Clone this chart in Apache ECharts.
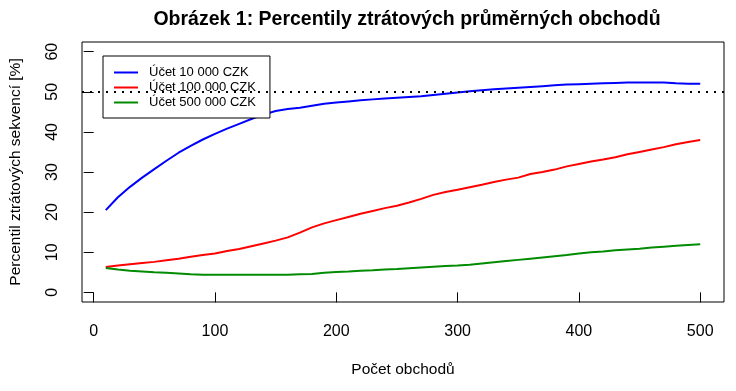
<!DOCTYPE html>
<html>
<head>
<meta charset="utf-8">
<script src="https://cdn.jsdelivr.net/npm/echarts@6/dist/echarts.min.js"></script>
<style>html,body{margin:0;padding:0;background:#fff;}#c{width:736px;height:391px;}</style>
</head>
<body>
<div id="c"></div>
<script>
const xValues = [10,20,30,40,50,60,70,80,90,100,110,120,130,140,150,160,170,180,190,200,210,220,230,240,250,260,270,280,290,300,310,320,330,340,350,360,370,380,390,400,410,420,430,440,450,460,470,480,490,500];
const ucet10k = [20.5,23.7,26.3,28.6,30.7,32.8,34.8,36.5,38.1,39.5,40.8,42.0,43.2,44.3,45.2,45.7,46.0,46.5,47.0,47.3,47.6,47.9,48.1,48.3,48.5,48.7,48.9,49.2,49.5,49.8,50.1,50.4,50.6,50.8,51.0,51.2,51.4,51.6,51.8,51.9,52.0,52.1,52.2,52.3,52.3,52.3,52.3,52.1,52.0,52.0];
const ucet100k = [6.3,6.7,7.0,7.3,7.6,8.0,8.4,8.9,9.3,9.7,10.3,10.8,11.5,12.2,12.9,13.7,14.9,16.2,17.2,18.0,18.8,19.6,20.3,21.0,21.6,22.4,23.3,24.3,25.0,25.6,26.2,26.8,27.5,28.1,28.6,29.5,30.0,30.6,31.4,32.0,32.6,33.1,33.7,34.4,35.0,35.6,36.2,36.9,37.5,38.0];
const ucet500k = [6.1,5.7,5.4,5.2,5.0,4.9,4.7,4.5,4.4,4.4,4.4,4.4,4.4,4.4,4.4,4.4,4.5,4.6,4.9,5.1,5.2,5.4,5.5,5.7,5.8,6.0,6.2,6.4,6.6,6.7,6.9,7.2,7.5,7.8,8.1,8.4,8.7,9.0,9.3,9.7,10.0,10.2,10.5,10.7,10.9,11.2,11.4,11.6,11.8,12.0];
const seriesNames = ['Účet 10 000 CZK','Účet 100 000 CZK','Účet 500 000 CZK'];
const xTicks = [0,100,200,300,400,500];
const yTicks = [0,10,20,30,40,50,60];
const refLine = 50;

const FONT = '"Liberation Sans", Arial, sans-serif';
const colors = ['#0000FF','#FF0000','#008B00'];
const pairs = ys => xValues.map((x,i)=>[x, ys[i]]);
const allY = [ucet10k, ucet100k, ucet500k];

const chart = echarts.init(document.getElementById('c'), null, {renderer:'canvas'});
const series = allY.map((ys,i)=>({
  name: seriesNames[i], type:'line', data: pairs(ys), symbol:'none', showSymbol:false,
  lineStyle:{color:colors[i], width:2}, itemStyle:{color:colors[i]}, animation:false,
  z: 3
}));
series[0].markLine = {
  silent:true, symbol:'none', animation:false,
  label:{show:false},
  lineStyle:{color:'#000', width:2, type:[2,6]},
  data:[{yAxis:refLine}]
};
chart.setOption({
  animation:false,
  backgroundColor:'#fff',
  title:{
    text:'Obrázek 1: Percentily ztrátových průměrných obchodů',
    left:402, top:5, textAlign:'center',
    textStyle:{fontFamily:FONT, fontSize:19.5, fontWeight:'bold', color:'#000'}
  },
  legend:{
    orient:'vertical', left:103, top:56,
    data: seriesNames.map(n=>({name:n, icon:'rect'})),
    itemWidth:24, itemHeight:2, itemGap:0,
    padding:[9,14,8,11],
    borderColor:'#000', borderWidth:1, borderRadius:0, backgroundColor:'#fff',
    selectedMode:false,
    textStyle:{fontFamily:FONT, fontSize:13, color:'#000', lineHeight:15, padding:[0,0,0,6]}
  },
  grid:{left:79, top:42, width:645, height:260, show:true, borderColor:'#000', borderWidth:1, backgroundColor:'transparent', containLabel:false},
  xAxis:{
    type:'value', min:-9.6, max:519.6,
    name:'Počet obchodů', nameLocation:'middle', nameGap:60,
    nameTextStyle:{fontFamily:FONT, fontSize:15.5, color:'#000'},
    axisLine:{show:false},
    axisTick:{show:true, customValues:xTicks, length:10, lineStyle:{color:'#000', width:1}},
    axisLabel:{customValues:xTicks, margin:22, fontFamily:FONT, fontSize:16, color:'#000'},
    splitLine:{show:false}
  },
  yAxis:{
    type:'value', min:-2.4, max:62.4,
    name:'Percentil ztrátových sekvencí [%]', nameLocation:'middle', nameGap:58, nameRotate:90,
    nameTextStyle:{fontFamily:FONT, fontSize:15.5, color:'#000'},
    axisLine:{show:false},
    axisTick:{show:true, customValues:yTicks, length:10, lineStyle:{color:'#000', width:1}},
    axisLabel:{customValues:yTicks, margin:21, rotate:90, fontFamily:FONT, fontSize:16, color:'#000'},
    splitLine:{show:false}
  },
  series: series
});
</script>
</body>
</html>
